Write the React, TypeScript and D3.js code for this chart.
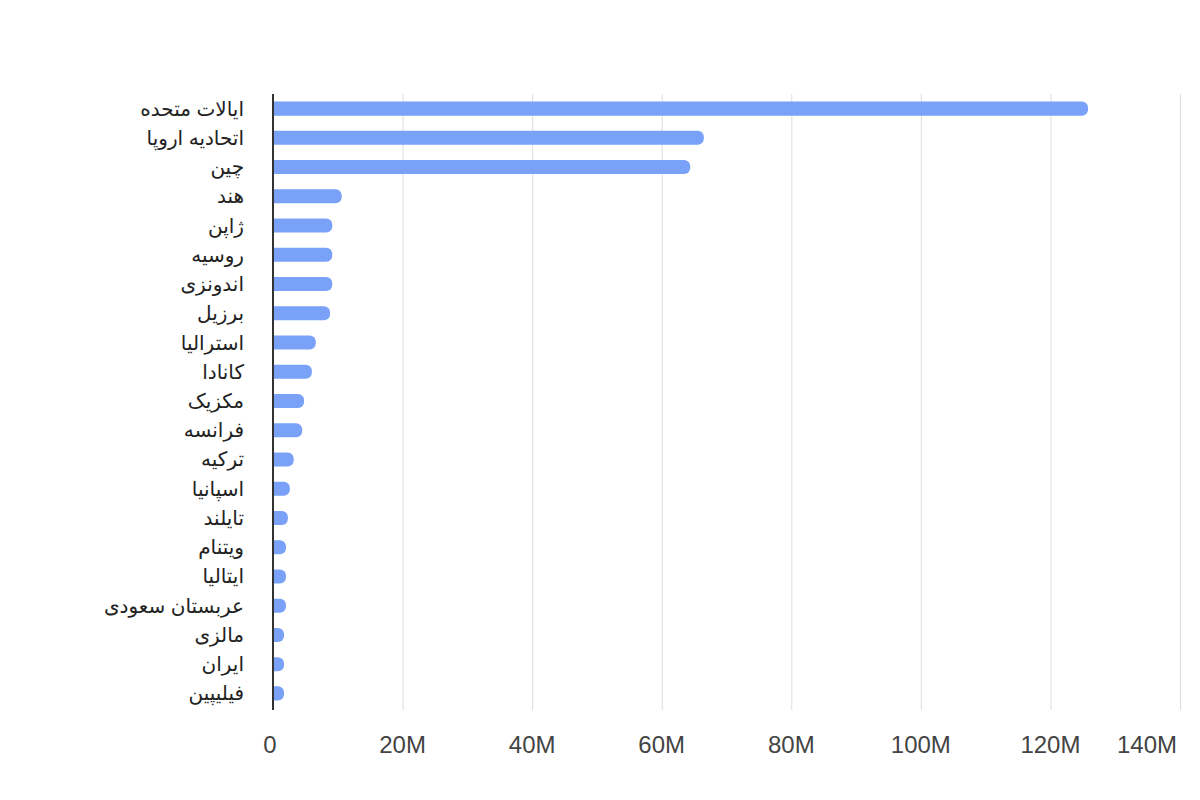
import { useRef, useEffect } from "react";
import * as d3 from "d3";

const countries = [
  "ایالات متحده",
  "اتحادیه اروپا",
  "چین",
  "هند",
  "ژاپن",
  "روسیه",
  "اندونزی",
  "برزیل",
  "استرالیا",
  "کانادا",
  "مکزیک",
  "فرانسه",
  "ترکیه",
  "اسپانیا",
  "تایلند",
  "ویتنام",
  "ایتالیا",
  "عربستان سعودی",
  "مالزی",
  "ایران",
  "فیلیپین",
];

const values = [
  125.8, 66.5, 64.4, 10.6, 9.15, 9.15, 9.15, 8.8, 6.6, 6.0, 4.8, 4.5, 3.2, 2.6, 2.3,
  2.0, 2.0, 2.0, 1.7, 1.7, 1.7,
].map((v) => v * 1e6);

const tickValues = [0, 20e6, 40e6, 60e6, 80e6, 100e6, 120e6, 140e6];
const tickLabels = ["0", "20M", "40M", "60M", "80M", "100M", "120M", "140M"];

const labelFont = "Arial, 'Liberation Sans', 'DejaVu Sans', sans-serif";

export default function App() {
  const svgRef = useRef<SVGSVGElement>(null);

  useEffect(() => {
    if (!svgRef.current) return;
    const width = 1200;
    const height = 800;
    const top = 94;
    const bottom = 710;

    const svg = d3.select(svgRef.current);
    svg.selectAll("*").remove();
    svg.attr("width", width).attr("height", height);

    svg.append("rect").attr("width", width).attr("height", height).attr("fill", "#fff");

    const x = d3.scaleLinear().domain([0, 140e6]).range([273, 1180]);
    const y = d3
      .scaleBand()
      .domain(countries)
      .range([top, 708])
      .paddingInner(0.52)
      .paddingOuter(0.26);

    // grid lines
    svg
      .append("g")
      .selectAll("line")
      .data(tickValues.slice(1))
      .join("line")
      .attr("x1", (d) => x(d) + 0.5)
      .attr("x2", (d) => x(d) + 0.5)
      .attr("y1", top)
      .attr("y2", bottom)
      .attr("stroke", "#dcdcdc")
      .attr("stroke-width", 1);

    // bars with rounded right end
    const data = countries.map((c, i) => ({ name: c, value: values[i] }));
    const bw = y.bandwidth();
    svg
      .append("g")
      .selectAll("path")
      .data(data)
      .join("path")
      .attr("fill", "#78a1f7")
      .attr("d", (d) => {
        const x0 = x(0);
        const x1 = x(d.value);
        const y0 = y(d.name) ?? 0;
        const r = Math.min(6, bw / 2, x1 - x0);
        return `M${x0},${y0}H${x1 - r}A${r},${r} 0 0 1 ${x1},${y0 + r}V${y0 + bw - r}A${r},${r} 0 0 1 ${x1 - r},${y0 + bw}H${x0}Z`;
      });

    // baseline axis
    svg
      .append("line")
      .attr("x1", x(0))
      .attr("x2", x(0))
      .attr("y1", top)
      .attr("y2", bottom)
      .attr("stroke", "#333")
      .attr("stroke-width", 2);

    // category labels
    svg
      .append("g")
      .selectAll("text")
      .data(data)
      .join("text")
      .attr("x", 244)
      .attr("y", (d) => (y(d.name) ?? 0) + bw / 2)
      .attr("dy", "0.35em")
      .attr("text-anchor", "end")
      .style("font-family", labelFont)
      .style("font-size", "20px")
      .style("fill", "#222")
      .text((d) => d.name);

    // x tick labels
    svg
      .append("g")
      .selectAll("text")
      .data(tickValues)
      .join("text")
      .attr("x", (d, i) => (i === tickValues.length - 1 ? 1177 : i === 0 ? x(d) - 3 : x(d)))
      .attr("y", 753)
      .attr("text-anchor", (d, i) => (i === tickValues.length - 1 ? "end" : "middle"))
      .style("font-family", labelFont)
      .style("font-size", "24px")
      .style("fill", "#444")
      .text((d, i) => tickLabels[i]);
  }, []);

  return <svg ref={svgRef} style={{ position: "absolute", left: 0, top: 0 }} />;
}
